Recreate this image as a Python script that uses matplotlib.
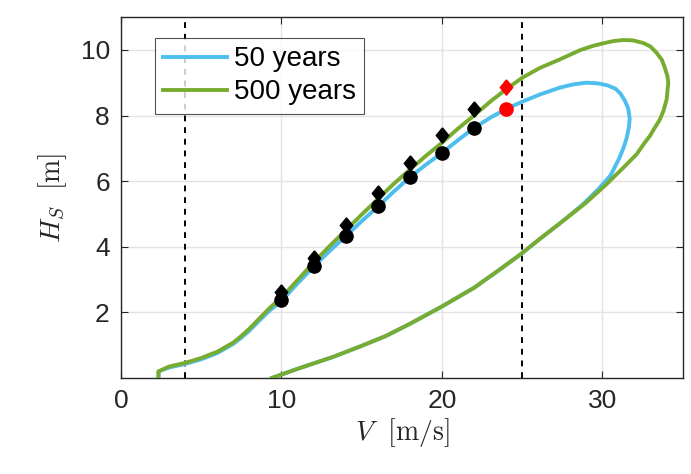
import matplotlib
matplotlib.use('Agg')
import matplotlib.pyplot as plt

# 50-year contour, traced from the bottom-left along the upper branch and back
v_50 = [2.34, 2.34, 3.0, 4.0, 5.0, 6.0, 7.0, 7.5, 8.0, 8.7, 9.3, 10.0, 11.0, 12.0, 13.0, 14.0,
        15.0, 16.0, 17.0, 18.0, 19.0, 20.0, 21.0, 22.0, 23.0, 24.0, 25.0, 26.1, 27.35, 28.2,
        29.0, 29.7, 30.3, 30.8, 31.1, 31.4, 31.6, 31.7, 31.65, 31.5, 31.3, 31.05, 30.5, 29.75,
        28.8, 27.55, 26.1, 24.9, 23.5, 22.0, 20.0, 18.0, 16.5, 15.0, 13.2, 11.0, 9.4]
h_50 = [0.0, 0.2, 0.32, 0.43, 0.57, 0.76, 1.04, 1.23, 1.44, 1.79, 2.07, 2.35, 2.88, 3.39, 3.87, 4.32,
        4.78, 5.22, 5.68, 6.12, 6.5, 6.86, 7.25, 7.62, 7.93, 8.2, 8.42, 8.64, 8.85, 8.95,
        9.0, 8.98, 8.92, 8.82, 8.68, 8.45, 8.22, 7.9, 7.65, 7.3, 7.0, 6.7, 6.17, 5.76,
        5.3, 4.79, 4.24, 3.77, 3.27, 2.75, 2.18, 1.65, 1.28, 0.98, 0.64, 0.28, 0.0]

# 500-year contour
v_500 = [2.34, 2.34, 3.0, 4.0, 5.0, 6.0, 7.0, 7.5, 8.0, 8.7, 9.3, 10.0, 11.0, 12.0, 13.0, 14.0,
         15.0, 16.0, 17.0, 18.0, 19.0, 20.0, 21.0, 22.0, 23.0, 24.0, 25.0, 26.1, 27.35, 28.6,
         29.4, 30.05, 30.7, 31.3, 31.9, 32.54, 33.0, 33.37, 33.7, 33.89, 34.05, 34.1, 34.0,
         33.8, 33.58, 33.2, 32.96, 32.6, 32.13, 31.3, 30.26, 29.0, 27.55, 26.1, 24.9, 23.5,
         22.0, 20.0, 18.0, 16.5, 15.0, 13.2, 11.0, 9.4]
h_500 = [0.0, 0.2, 0.35, 0.46, 0.61, 0.8, 1.08, 1.28, 1.5, 1.85, 2.15, 2.45, 2.98, 3.52, 4.02, 4.5,
         4.98, 5.45, 5.92, 6.35, 6.77, 7.17, 7.6, 8.0, 8.42, 8.8, 9.15, 9.45, 9.71, 9.99,
         10.12, 10.2, 10.27, 10.3, 10.29, 10.21, 10.1, 9.91, 9.7, 9.45, 9.2, 9.0, 8.49,
         8.14, 7.88, 7.58, 7.38, 7.15, 6.82, 6.41, 5.91, 5.35, 4.79, 4.24, 3.77, 3.27,
         2.75, 2.18, 1.65, 1.28, 0.98, 0.64, 0.28, 0.0]

# conditional points along each contour
v_pts = [10, 12, 14, 16, 18, 20, 22]
h_pts_50 = [2.37, 3.41, 4.32, 5.23, 6.13, 6.86, 7.62]
h_pts_500 = [2.62, 3.65, 4.65, 5.64, 6.54, 7.42, 8.20]
v_red = 24
h_red_50 = 8.20
h_red_500 = 8.87

v_cut_in = 4
v_cut_out = 25

plt.rcParams['font.family'] = ['Liberation Sans', 'DejaVu Sans']
plt.rcParams['mathtext.fontset'] = 'cm'

fig = plt.figure(figsize=(6.91, 4.74), dpi=100)
ax = fig.add_axes([0.175, 0.2025, 0.813, 0.7615])

blue = '#4DBEEE'
green = '#77AC30'
diamond = [(0, 1), (0.82, 0), (0, -1), (-0.82, 0), (0, 1)]

ax.plot(v_50, h_50, color=blue, lw=2.8, label='50 years', zorder=3,
        solid_joinstyle='round')
ax.plot(v_500, h_500, color=green, lw=2.8, label='500 years', zorder=4,
        solid_joinstyle='round')

ax.axvline(v_cut_in, color='k', ls=(0, (3, 3)), lw=1.4, zorder=2)
ax.axvline(v_cut_out, color='k', ls=(0, (3, 3)), lw=1.4, zorder=2)

ax.plot(v_pts, h_pts_50, 'o', color='k', ms=9.5, zorder=5)
ax.plot(v_pts, h_pts_500, marker=diamond, ls='none', color='k', ms=11, zorder=5)
ax.plot([v_red], [h_red_50], 'o', color='red', ms=9.5, zorder=5)
ax.plot([v_red], [h_red_500], marker=diamond, ls='none', color='red', ms=11, zorder=5)

ax.set_xlim(0, 35)
ax.set_ylim(0, 11)
ax.set_xticks([0, 10, 20, 30])
ax.set_yticks([2, 4, 6, 8, 10])
ax.grid(True, color='#e3e3e3', lw=1)
ax.set_axisbelow(True)
ax.tick_params(direction='in', top=True, right=True, labelsize=19,
               colors='#262626', length=5, pad=8)
for s in ax.spines.values():
    s.set_color('#262626')
    s.set_linewidth(1)

ax.set_xlabel(r'$V\ \ [\mathrm{m/s}]$', fontsize=20, color='#262626', labelpad=2)
ax.set_ylabel(r'$H_S\ \ [\mathrm{m}]$', fontsize=20, color='#262626', labelpad=8)

leg = ax.legend(loc='upper left', bbox_to_anchor=(0.06, 0.942), borderaxespad=0,
                fontsize=20, frameon=True, fancybox=False, handlelength=2.3,
                handletextpad=0.25, borderpad=0.3, labelspacing=0.25)
leg.get_frame().set_edgecolor('#262626')
leg.get_frame().set_linewidth(0.8)

fig.savefig('out.png', dpi=100)
